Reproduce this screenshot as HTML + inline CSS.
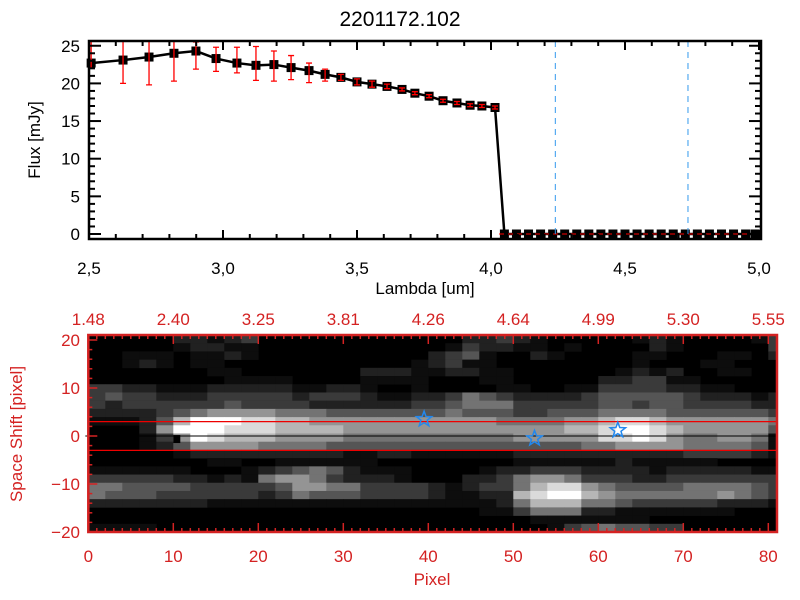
<!DOCTYPE html>
<html><head><meta charset="utf-8"><style>
html,body{margin:0;padding:0;background:#fff;}
svg{display:block;font-family:"Liberation Sans",sans-serif;}
</style></head><body>
<svg id="chart" width="800" height="600" viewBox="0 0 800 600" xmlns="http://www.w3.org/2000/svg">
<rect width="800" height="600" fill="#fff"/>
<text x="400" y="26" text-anchor="middle" font-size="21">2201172.102</text>
<g id="top"></g>
<g id="bot"></g>
</svg>
<script>
const lam = [2.508,2.627,2.724,2.817,2.899,2.974,3.052,3.123,3.190,3.254,3.321,3.381,3.440,3.500,3.556,3.612,3.668,3.716,3.769,3.821,3.873,3.922,3.966,4.015];
const flux = [22.7,23.1,23.5,24.0,24.3,23.3,22.7,22.4,22.5,22.1,21.7,21.2,20.8,20.2,19.9,19.6,19.2,18.7,18.3,17.7,17.4,17.1,17.0,16.8];
const errLo = [22.0,20.0,19.8,20.3,21.9,21.6,21.4,20.4,20.3,20.5,20.1,20.3,20.4,19.8,19.5,19.3,19.0,18.5,18.1,17.5,17.2,16.9,16.8,16.6];
const errHi = [26.0,26.2,27.2,27.7,25.5,24.8,24.8,24.9,24.3,23.7,22.7,21.9,21.2,20.6,20.3,19.9,19.4,18.9,18.5,17.9,17.6,17.3,17.2,17.0];
const zeroLam = [4.05,4.095,4.14,4.185,4.23,4.275,4.32,4.365,4.41,4.455,4.5,4.545,4.59,4.635,4.68,4.725,4.77,4.815,4.86,4.905,4.95,4.985];
const vLines = [4.24,4.735];
const xTicksTop = ["2,5","3,0","3,5","4,0","4,5","5,0"];
const xTickValsTop = [2.5,3.0,3.5,4.0,4.5,5.0];
const yTickValsTop = [0,5,10,15,20,25];
const heatRows = [
"00000221230000000000002232100000121000013",
"00000122110000000000013221101000021000003",
"00111011210000000000234100210000110001102",
"00121011000000000001231100000000100011000",
"00000001100000002221122110000001212001100",
"00000000111100001111000110000022331100000",
"33221112222211221001000011001133332211000",
"34332223333323332112235432222344444322212",
"32333333433332222223345553333344344333322",
"22223456666555444444454443344455554444443",
"11124799988776666666666655556678876666665",
"00026999888777766666666666667789987666664",
"00013698777666655555555556666688986556651",
"00012466665555444444444444444556666555541",
"00000122222222211221111112222222222333321",
"00000001100111111000000001111112111110000",
"11111100012345421110000122333222212222211",
"33333221215665322210002235665333223333333",
"55444433333466553333212335788654444555543",
"54443333332354443333211227899765555556543",
"22222221111111111111111125777554333332221",
"00000000000000000000000113555221111111000",
"00000000000000000000000000111111100000000",
"11110000000000000000000000013454433000000"];
const starPix = [39.5,52.5,62.3];
const starY = [3.5,-0.5,1.2];
const xTicksBot = [0,10,20,30,40,50,60,70,80];
const topLamLabels = ["1.48","2.40","3.25","3.81","4.26","4.64","4.99","5.30","5.55"];
const yTicksBot = [20,10,0,-10,-20];

const NS="http://www.w3.org/2000/svg";
function mk(parent,tag,attrs,text){const e=document.createElementNS(NS,tag);for(const k in attrs)e.setAttribute(k,attrs[k]);if(text!==undefined)e.textContent=text;parent.appendChild(e);return e;}

const T=document.getElementById('top');
const L=89,R=759,Y0=234,PY=7.53;
const sx=v=>L+(v-2.5)*(R-L)/2.5;
const sy=v=>Y0-v*PY;
const FT=41,FB=239,FR=761;
let pts=lam.map((l,i)=>sx(l)+','+sy(flux[i]));
pts.push(sx(zeroLam[0])+','+sy(0));
pts.push(sx(5.0)+','+sy(0));
let ln=mk(T,'polyline',{points:pts.join(' '),fill:'none',stroke:'#000','stroke-width':2.5});


lam.forEach((l,i)=>{
  let m=mk(T,'rect',{x:sx(l)-4.5,y:sy(flux[i])-4.5,width:9,height:9,fill:'#000'});
  
  
  const top=Math.max(FT,sy(errHi[i])),bot=sy(errLo[i]);
  let e=mk(T,'path',{d:`M${sx(l)},${top}V${bot}M${sx(l)-3},${top}h6M${sx(l)-3},${bot}h6`,stroke:'#f00','stroke-width':1.3,fill:'none'});
  
  
});
zeroLam.forEach(l=>{
  let m=mk(T,'rect',{x:sx(l)-4.5,y:sy(0)-4.5,width:9,height:9,fill:'#000'});
  
  
});
let zd=mk(T,'line',{x1:sx(4.03),x2:FR,y1:sy(0),y2:sy(0),stroke:'#f00','stroke-width':1,'stroke-dasharray':'5,4'});


vLines.forEach(v=>{
  let d=mk(T,'line',{x1:sx(v),x2:sx(v),y1:FT,y2:FB,stroke:'#3399ee','stroke-width':1,'stroke-dasharray':'6,5'});
  
  
});
let fr=mk(T,'rect',{x:L,y:FT,width:FR-L,height:FB-FT,fill:'none',stroke:'#000','stroke-width':2.5});


for(let v=2.5;v<=5.001;v+=0.1){const big=Math.abs(v*2-Math.round(v*2))<0.01;const x=sx(v);
  mk(T,'line',{x1:x,x2:x,y1:FB,y2:FB-(big?9:5),stroke:'#000','stroke-width':2});
  mk(T,'line',{x1:x,x2:x,y1:FT,y2:FT+(big?9:5),stroke:'#000','stroke-width':2});}
for(let v=0;v<=25;v++){const big=v%5==0;const y=sy(v);
  mk(T,'line',{x1:L,x2:L+(big?12:6),y1:y,y2:y,stroke:'#000','stroke-width':2});
  mk(T,'line',{x1:FR,x2:FR-(big?12:6),y1:y,y2:y,stroke:'#000','stroke-width':2});}
xTickValsTop.forEach((v,i)=>{let t=mk(T,'text',{x:sx(v),y:274,'text-anchor':'middle','font-size':17},xTicksTop[i]);
  
  });
yTickValsTop.forEach(v=>{let t=mk(T,'text',{x:80,y:sy(v)+6,'text-anchor':'end','font-size':17},String(v));
  
  });
let xt=mk(T,'text',{x:425,y:294,'text-anchor':'middle','font-size':17},'Lambda [um]');


let yt=mk(T,'text',{x:0,y:0,transform:'translate(40,140) rotate(-90)','text-anchor':'middle','font-size':17},'Flux [mJy]');



const B=document.getElementById('bot');
const BL=88.3,PX=8.5,BY0=436,PYB=4.8,BT=335,BB=532,BR=777;
const bx=p=>BL+p*PX;
const by=v=>BY0-v*PYB;
const RH=(BB-BT)/heatRows.length;
mk(B,'rect',{x:BL,y:BT,width:BR-BL,height:BB-BT,fill:'#000'});
heatRows.forEach((row,r)=>{
  for(let c=0;c<41;c++){const d=parseInt(row[c]||'0');if(!d)continue;
    const g=Math.min(255,Math.round(255*Math.pow(d/9,1.35)));
    const w=Math.min(2*PX,BR-bx(2*c));
    let cell=mk(B,'rect',{x:bx(2*c),y:BT+r*RH,width:w+0.3,height:RH+0.3,fill:`rgb(${g},${g},${g})`});
    
    }
});
let bm=mk(B,'rect',{x:bx(10),y:by(0.2),width:7,height:8,fill:'#000'});


[3,-3].forEach(v=>{let l=mk(B,'line',{x1:BL,x2:BR,y1:by(v),y2:by(v),stroke:'#e00','stroke-width':1.3});
  
  });
let cl=mk(B,'line',{x1:BL-3,x2:BR,y1:by(0),y2:by(0),stroke:'#000','stroke-width':1});


function star(cx,cy,r){let p=[];for(let i=0;i<10;i++){const a=-Math.PI/2+i*Math.PI/5;const rr=i%2?r*0.42:r;p.push((cx+rr*Math.cos(a)).toFixed(1)+','+(cy+rr*Math.sin(a)).toFixed(1));}return p.join(' ');}
starPix.forEach((p,i)=>{let s=mk(B,'polygon',{points:star(bx(p),by(starY[i]),8),fill:'none',stroke:'#2288ee','stroke-width':1.5});
  
  });
const RED='#d42222';
let bf=mk(B,'rect',{x:BL,y:BT,width:BR-BL,height:BB-BT,fill:'none',stroke:RED,'stroke-width':2.5});


for(let p=0;p<=81;p++){const big=p%10==0;const x=bx(p);
  mk(B,'line',{x1:x,x2:x,y1:BB,y2:BB-(big?9:4),stroke:RED,'stroke-width':1.5});
  mk(B,'line',{x1:x,x2:x,y1:BT,y2:BT+(big?9:4),stroke:RED,'stroke-width':1.5});}
for(let v=-20;v<=20;v+=2){const big=v%10==0;const y=by(v);
  mk(B,'line',{x1:BL,x2:BL+(big?9:4),y1:y,y2:y,stroke:RED,'stroke-width':1.5});}
xTicksBot.forEach((p,i)=>{
  let t=mk(B,'text',{x:bx(p),y:562,'text-anchor':'middle','font-size':17,fill:RED},String(p));
  
  
  let u=mk(B,'text',{x:bx(p),y:325,'text-anchor':'middle','font-size':17,fill:RED},topLamLabels[i]);
  
  });
yTicksBot.forEach(v=>{let t=mk(B,'text',{x:80,y:by(v)+6,'text-anchor':'end','font-size':17,fill:RED},(v<0?'\u2212':'')+Math.abs(v));
  
  });
let px=mk(B,'text',{x:432,y:585,'text-anchor':'middle','font-size':17,fill:RED},'Pixel');


let ss=mk(B,'text',{x:0,y:0,transform:'translate(22,434) rotate(-90)','text-anchor':'middle','font-size':17,fill:RED},'Space Shift [pixel]');


</script>
</body></html>
